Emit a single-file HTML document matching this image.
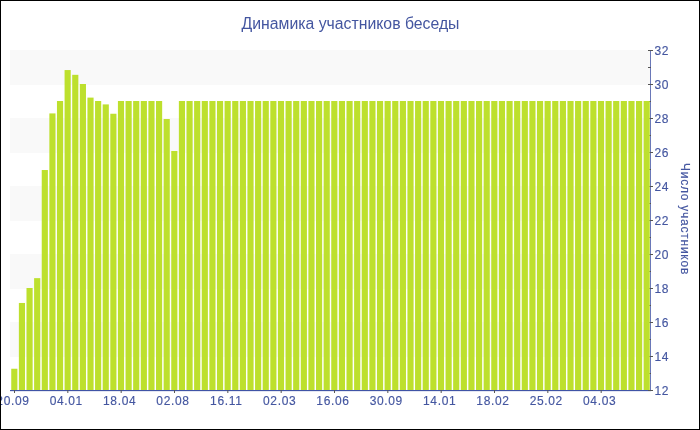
<!DOCTYPE html>
<html><head><meta charset="utf-8"><style>
html,body{margin:0;padding:0;background:#fff;}
svg{display:block;will-change:transform;}
text{font-family:"Liberation Sans",sans-serif;fill:#4456a0;}
.xl{font-size:12px;letter-spacing:0.65px;stroke:#4456a0;stroke-width:0.15px;}
.yl{font-size:12px;letter-spacing:0.6px;stroke:#4456a0;stroke-width:0.15px;}
.title{font-size:15.8px;}
.ytitle{font-size:12px;letter-spacing:0.75px;stroke:#4456a0;stroke-width:0.15px;}
</style></head><body>
<svg width="700" height="430" viewBox="0 0 700 430">
<rect x="0" y="0" width="700" height="430" fill="#fff"/>
<rect x="10" y="50" width="640" height="35" fill="#f9f9f9"/>
<rect x="10" y="118" width="640" height="35" fill="#f9f9f9"/>
<rect x="10" y="186" width="640" height="35" fill="#f9f9f9"/>
<rect x="10" y="254" width="640" height="35" fill="#f9f9f9"/>
<rect x="10" y="322" width="640" height="35" fill="#f9f9f9"/>
<rect x="10" y="390" width="641" height="1" fill="#4054a6"/>
<rect x="650" y="50" width="1" height="341" fill="#6a78b8"/>
<rect x="10" y="391" width="641" height="1" fill="#e4e7f3"/>
<rect x="648" y="390" width="5" height="1" fill="#555555"/>
<rect x="648" y="373" width="3" height="1" fill="#555555"/>
<rect x="648" y="356" width="5" height="1" fill="#555555"/>
<rect x="648" y="339" width="3" height="1" fill="#555555"/>
<rect x="648" y="322" width="5" height="1" fill="#555555"/>
<rect x="648" y="305" width="3" height="1" fill="#555555"/>
<rect x="648" y="288" width="5" height="1" fill="#555555"/>
<rect x="648" y="271" width="3" height="1" fill="#555555"/>
<rect x="648" y="254" width="5" height="1" fill="#555555"/>
<rect x="648" y="237" width="3" height="1" fill="#555555"/>
<rect x="648" y="220" width="5" height="1" fill="#555555"/>
<rect x="648" y="203" width="3" height="1" fill="#555555"/>
<rect x="648" y="186" width="5" height="1" fill="#555555"/>
<rect x="648" y="169" width="3" height="1" fill="#555555"/>
<rect x="648" y="152" width="5" height="1" fill="#555555"/>
<rect x="648" y="135" width="3" height="1" fill="#555555"/>
<rect x="648" y="118" width="5" height="1" fill="#555555"/>
<rect x="648" y="101" width="3" height="1" fill="#555555"/>
<rect x="648" y="84" width="5" height="1" fill="#555555"/>
<rect x="648" y="67" width="3" height="1" fill="#555555"/>
<rect x="648" y="50" width="5" height="1" fill="#555555"/>
<rect x="14.00" y="390" width="1" height="3" fill="#555555"/>
<rect x="67.33" y="390" width="1" height="3" fill="#555555"/>
<rect x="120.67" y="390" width="1" height="3" fill="#555555"/>
<rect x="174.00" y="390" width="1" height="3" fill="#555555"/>
<rect x="227.33" y="390" width="1" height="3" fill="#555555"/>
<rect x="280.67" y="390" width="1" height="3" fill="#555555"/>
<rect x="334.00" y="390" width="1" height="3" fill="#555555"/>
<rect x="387.33" y="390" width="1" height="3" fill="#555555"/>
<rect x="440.67" y="390" width="1" height="3" fill="#555555"/>
<rect x="494.00" y="390" width="1" height="3" fill="#555555"/>
<rect x="547.33" y="390" width="1" height="3" fill="#555555"/>
<rect x="600.67" y="390" width="1" height="3" fill="#555555"/>
<rect x="11.25" y="368.75" width="6.15" height="21.25" fill="#bde02d"/>
<rect x="18.87" y="302.96" width="6.15" height="87.04" fill="#bde02d"/>
<rect x="26.49" y="288.00" width="6.15" height="102.00" fill="#bde02d"/>
<rect x="34.11" y="278.14" width="6.15" height="111.86" fill="#bde02d"/>
<rect x="41.73" y="170.02" width="6.15" height="219.98" fill="#bde02d"/>
<rect x="49.35" y="113.41" width="6.15" height="276.59" fill="#bde02d"/>
<rect x="56.96" y="101.00" width="6.15" height="289.00" fill="#bde02d"/>
<rect x="64.58" y="70.06" width="6.15" height="319.94" fill="#bde02d"/>
<rect x="72.20" y="74.82" width="6.15" height="315.18" fill="#bde02d"/>
<rect x="79.82" y="84.00" width="6.15" height="306.00" fill="#bde02d"/>
<rect x="87.44" y="97.60" width="6.15" height="292.40" fill="#bde02d"/>
<rect x="95.06" y="101.00" width="6.15" height="289.00" fill="#bde02d"/>
<rect x="102.68" y="104.40" width="6.15" height="285.60" fill="#bde02d"/>
<rect x="110.30" y="113.75" width="6.15" height="276.25" fill="#bde02d"/>
<rect x="117.92" y="101.00" width="6.15" height="289.00" fill="#bde02d"/>
<rect x="125.54" y="101.00" width="6.15" height="289.00" fill="#bde02d"/>
<rect x="133.15" y="101.00" width="6.15" height="289.00" fill="#bde02d"/>
<rect x="140.77" y="101.00" width="6.15" height="289.00" fill="#bde02d"/>
<rect x="148.39" y="101.00" width="6.15" height="289.00" fill="#bde02d"/>
<rect x="156.01" y="101.00" width="6.15" height="289.00" fill="#bde02d"/>
<rect x="163.63" y="119.02" width="6.15" height="270.98" fill="#bde02d"/>
<rect x="171.25" y="150.98" width="6.15" height="239.02" fill="#bde02d"/>
<rect x="178.87" y="101.00" width="6.15" height="289.00" fill="#bde02d"/>
<rect x="186.49" y="101.00" width="6.15" height="289.00" fill="#bde02d"/>
<rect x="194.11" y="101.00" width="6.15" height="289.00" fill="#bde02d"/>
<rect x="201.73" y="101.00" width="6.15" height="289.00" fill="#bde02d"/>
<rect x="209.35" y="101.00" width="6.15" height="289.00" fill="#bde02d"/>
<rect x="216.96" y="101.00" width="6.15" height="289.00" fill="#bde02d"/>
<rect x="224.58" y="101.00" width="6.15" height="289.00" fill="#bde02d"/>
<rect x="232.20" y="101.00" width="6.15" height="289.00" fill="#bde02d"/>
<rect x="239.82" y="101.00" width="6.15" height="289.00" fill="#bde02d"/>
<rect x="247.44" y="101.00" width="6.15" height="289.00" fill="#bde02d"/>
<rect x="255.06" y="101.00" width="6.15" height="289.00" fill="#bde02d"/>
<rect x="262.68" y="101.00" width="6.15" height="289.00" fill="#bde02d"/>
<rect x="270.30" y="101.00" width="6.15" height="289.00" fill="#bde02d"/>
<rect x="277.92" y="101.00" width="6.15" height="289.00" fill="#bde02d"/>
<rect x="285.54" y="101.00" width="6.15" height="289.00" fill="#bde02d"/>
<rect x="293.15" y="101.00" width="6.15" height="289.00" fill="#bde02d"/>
<rect x="300.77" y="101.00" width="6.15" height="289.00" fill="#bde02d"/>
<rect x="308.39" y="101.00" width="6.15" height="289.00" fill="#bde02d"/>
<rect x="316.01" y="101.00" width="6.15" height="289.00" fill="#bde02d"/>
<rect x="323.63" y="101.00" width="6.15" height="289.00" fill="#bde02d"/>
<rect x="331.25" y="101.00" width="6.15" height="289.00" fill="#bde02d"/>
<rect x="338.87" y="101.00" width="6.15" height="289.00" fill="#bde02d"/>
<rect x="346.49" y="101.00" width="6.15" height="289.00" fill="#bde02d"/>
<rect x="354.11" y="101.00" width="6.15" height="289.00" fill="#bde02d"/>
<rect x="361.73" y="101.00" width="6.15" height="289.00" fill="#bde02d"/>
<rect x="369.35" y="101.00" width="6.15" height="289.00" fill="#bde02d"/>
<rect x="376.96" y="101.00" width="6.15" height="289.00" fill="#bde02d"/>
<rect x="384.58" y="101.00" width="6.15" height="289.00" fill="#bde02d"/>
<rect x="392.20" y="101.00" width="6.15" height="289.00" fill="#bde02d"/>
<rect x="399.82" y="101.00" width="6.15" height="289.00" fill="#bde02d"/>
<rect x="407.44" y="101.00" width="6.15" height="289.00" fill="#bde02d"/>
<rect x="415.06" y="101.00" width="6.15" height="289.00" fill="#bde02d"/>
<rect x="422.68" y="101.00" width="6.15" height="289.00" fill="#bde02d"/>
<rect x="430.30" y="101.00" width="6.15" height="289.00" fill="#bde02d"/>
<rect x="437.92" y="101.00" width="6.15" height="289.00" fill="#bde02d"/>
<rect x="445.54" y="101.00" width="6.15" height="289.00" fill="#bde02d"/>
<rect x="453.15" y="101.00" width="6.15" height="289.00" fill="#bde02d"/>
<rect x="460.77" y="101.00" width="6.15" height="289.00" fill="#bde02d"/>
<rect x="468.39" y="101.00" width="6.15" height="289.00" fill="#bde02d"/>
<rect x="476.01" y="101.00" width="6.15" height="289.00" fill="#bde02d"/>
<rect x="483.63" y="101.00" width="6.15" height="289.00" fill="#bde02d"/>
<rect x="491.25" y="101.00" width="6.15" height="289.00" fill="#bde02d"/>
<rect x="498.87" y="101.00" width="6.15" height="289.00" fill="#bde02d"/>
<rect x="506.49" y="101.00" width="6.15" height="289.00" fill="#bde02d"/>
<rect x="514.11" y="101.00" width="6.15" height="289.00" fill="#bde02d"/>
<rect x="521.73" y="101.00" width="6.15" height="289.00" fill="#bde02d"/>
<rect x="529.35" y="101.00" width="6.15" height="289.00" fill="#bde02d"/>
<rect x="536.96" y="101.00" width="6.15" height="289.00" fill="#bde02d"/>
<rect x="544.58" y="101.00" width="6.15" height="289.00" fill="#bde02d"/>
<rect x="552.20" y="101.00" width="6.15" height="289.00" fill="#bde02d"/>
<rect x="559.82" y="101.00" width="6.15" height="289.00" fill="#bde02d"/>
<rect x="567.44" y="101.00" width="6.15" height="289.00" fill="#bde02d"/>
<rect x="575.06" y="101.00" width="6.15" height="289.00" fill="#bde02d"/>
<rect x="582.68" y="101.00" width="6.15" height="289.00" fill="#bde02d"/>
<rect x="590.30" y="101.00" width="6.15" height="289.00" fill="#bde02d"/>
<rect x="597.92" y="101.00" width="6.15" height="289.00" fill="#bde02d"/>
<rect x="605.54" y="101.00" width="6.15" height="289.00" fill="#bde02d"/>
<rect x="613.15" y="101.00" width="6.15" height="289.00" fill="#bde02d"/>
<rect x="620.77" y="101.00" width="6.15" height="289.00" fill="#bde02d"/>
<rect x="628.39" y="101.00" width="6.15" height="289.00" fill="#bde02d"/>
<rect x="636.01" y="101.00" width="6.15" height="289.00" fill="#bde02d"/>
<rect x="643.63" y="101.00" width="6.15" height="289.00" fill="#bde02d"/>
<text x="13.0" y="405" text-anchor="middle" class="xl">20.09</text>
<text x="66.3" y="405" text-anchor="middle" class="xl">04.01</text>
<text x="119.7" y="405" text-anchor="middle" class="xl">18.04</text>
<text x="173.0" y="405" text-anchor="middle" class="xl">02.08</text>
<text x="226.3" y="405" text-anchor="middle" class="xl">16.11</text>
<text x="279.7" y="405" text-anchor="middle" class="xl">02.03</text>
<text x="333.0" y="405" text-anchor="middle" class="xl">16.06</text>
<text x="386.3" y="405" text-anchor="middle" class="xl">30.09</text>
<text x="439.7" y="405" text-anchor="middle" class="xl">14.01</text>
<text x="493.0" y="405" text-anchor="middle" class="xl">18.02</text>
<text x="546.3" y="405" text-anchor="middle" class="xl">25.02</text>
<text x="599.7" y="405" text-anchor="middle" class="xl">04.03</text>
<text x="654.5" y="394.5" class="yl">12</text>
<text x="654.5" y="360.5" class="yl">14</text>
<text x="654.5" y="326.5" class="yl">16</text>
<text x="654.5" y="292.5" class="yl">18</text>
<text x="654.5" y="258.5" class="yl">20</text>
<text x="654.5" y="224.5" class="yl">22</text>
<text x="654.5" y="190.5" class="yl">24</text>
<text x="654.5" y="156.5" class="yl">26</text>
<text x="654.5" y="122.5" class="yl">28</text>
<text x="654.5" y="88.5" class="yl">30</text>
<text x="654.5" y="54.5" class="yl">32</text>
<text x="350.5" y="29" text-anchor="middle" class="title">Динамика участников беседы</text>
<text transform="translate(681,163) rotate(90)" class="ytitle">Число участников</text>
<rect x="0.5" y="0.5" width="699" height="429" fill="none" stroke="#000" stroke-width="1"/>
</svg>
</body></html>
